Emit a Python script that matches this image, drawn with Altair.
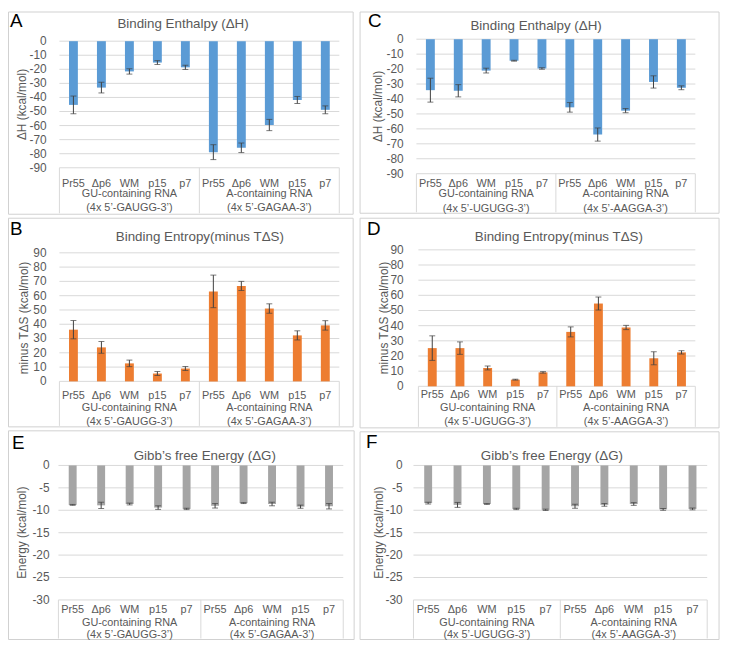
import altair as alt
import pandas as pd

# ---------------- data ----------------
proteins = ["Pr55", "Δp6", "WM", "p15", "p7"]
group_names = ["GU-containing RNA", "A-containing RNA"]
seq_left = ["(4x 5’-GAUGG-3’)", "(4x 5’-GAGAA-3’)"]
seq_right = ["(4x 5’-UGUGG-3’)", "(4x 5’-AAGGA-3’)"]

title_dH = "Binding Enthalpy (ΔH)"
title_dS = "Binding Entropy(minus TΔS)"
title_dG = "Gibb’s free Energy (ΔG)"
ytitle_dH = "ΔH (kcal/mol)"
ytitle_dS = "minus TΔS (kcal/mol)"
ytitle_dG = "Energy (kcal/mol)"

ticks_dH = [0, -10, -20, -30, -40, -50, -60, -70, -80, -90]
ticks_dS = [0, 10, 20, 30, 40, 50, 60, 70, 80, 90]
ticks_dG = [0, -5, -10, -15, -20, -25, -30]

A_mean = [-45.3, -33.0, -21.5, -15.2, -18.6, -78.9, -75.8, -59.6, -41.8, -48.8]
A_err = [6.3, 3.8, 1.9, 1.4, 1.5, 5.3, 3.4, 4.0, 2.5, 2.8]
B_mean = [36.2, 23.8, 12.6, 5.5, 9.0, 63.0, 66.8, 51.0, 32.2, 39.2]
B_err = [6.4, 4.1, 2.3, 1.4, 1.4, 11.4, 3.2, 3.3, 3.2, 3.3]
C_mean = [-34.1, -34.5, -21.0, -14.4, -19.6, -45.6, -63.8, -47.8, -28.6, -32.5]
C_err = [8.0, 4.1, 1.6, 0.3, 0.5, 3.2, 4.4, 1.4, 4.1, 1.3]
D_mean = [25.2, 25.2, 12.1, 4.4, 9.2, 35.9, 54.6, 38.8, 18.5, 22.4]
D_err = [8.1, 4.1, 1.3, 0.3, 0.5, 3.3, 4.3, 1.4, 4.3, 1.1]
E_mean = [-8.8, -8.9, -8.6, -9.4, -9.7, -9.0, -8.4, -8.6, -9.2, -9.1]
E_err = [0.1, 0.7, 0.2, 0.4, 0.15, 0.5, 0.1, 0.4, 0.35, 0.6]
F_mean = [-8.4, -8.8, -8.6, -9.7, -9.9, -9.1, -8.8, -8.6, -9.8, -9.7]
F_err = [0.2, 0.55, 0.1, 0.15, 0.15, 0.45, 0.3, 0.3, 0.2, 0.2]

BLUE = "#5B9BD5"
ORANGE = "#ED7D31"
GRAY = "#A5A5A5"
TXT = "#595959"
GRID = "#D9D9D9"
BORDER = "#D0D0D0"
ERR = "#404040"
FONT = "Liberation Sans"


def panel(letter, title, ytitle, vals, errs, seqs, color, ticks, L):
    xs = alt.Scale(domain=[-0.5, 9.5], range=[L["px0"], L["px1"]], nice=False, zero=False)
    ys = alt.Scale(domain=L["ydom"], range=L["yrange"], nice=False, zero=False)
    n = len(vals)
    df = pd.DataFrame({
        "pos": list(range(n)),
        "v": vals,
        "lo": [v - e for v, e in zip(vals, errs)],
        "hi": [v + e for v, e in zip(vals, errs)],
        "zero": [0] * n,
        "lab": proteins * 2,
    })
    tdf = pd.DataFrame({"t": ticks, "a": [-0.5] * len(ticks), "b": [9.5] * len(ticks),
                        "lab": [str(t) for t in ticks]})
    sdf = pd.DataFrame({"s": [-0.5, 4.5, 9.5]})
    gdf = pd.DataFrame({"g": [2, 7], "name": group_names, "seq": seqs})
    one = pd.DataFrame({"k": [0]})

    X = lambda f: alt.X(f, type="quantitative", scale=xs, axis=None)
    Y = lambda f: alt.Y(f, type="quantitative", scale=ys, axis=None)

    bx0, by0, bx1, by1 = L["box"]
    layers = [
        alt.Chart(one).mark_rect(fill="white", fillOpacity=0, stroke=BORDER, strokeWidth=1).encode(
            x=alt.value(bx0), x2=alt.value(bx1), y=alt.value(by0), y2=alt.value(by1)),
        alt.Chart(tdf).mark_rule(color=GRID, strokeWidth=1).encode(
            x=X("a"), x2="b", y=Y("t")),
        alt.Chart(sdf).mark_rule(color=GRID, strokeWidth=1).encode(
            x=X("s"), y=alt.value(L["sep"][0]), y2=alt.value(L["sep"][1])),
        alt.Chart(df).mark_bar(color=color, size=L["bar"]).encode(
            x=X("pos"), y=Y("v"), y2="zero"),
        alt.Chart(df).mark_rule(color=ERR, strokeWidth=1).encode(
            x=X("pos"), y=Y("lo"), y2="hi"),
        alt.Chart(df).mark_tick(color=ERR, orient="horizontal", size=6, thickness=1).encode(
            x=X("pos"), y=Y("lo")),
        alt.Chart(df).mark_tick(color=ERR, orient="horizontal", size=6, thickness=1).encode(
            x=X("pos"), y=Y("hi")),
        alt.Chart(tdf).mark_text(align="right", baseline="middle", font=FONT, fontSize=12, color=TXT).encode(
            x=alt.value(L["tickx"]), y=Y("t"), text="lab"),
        alt.Chart(df).mark_text(align="center", baseline="middle", font=FONT, fontSize=11, color=TXT).encode(
            x=X("pos"), y=alt.value(L["cat"]), text="lab"),
        alt.Chart(gdf).mark_text(align="center", baseline="middle", font=FONT, fontSize=11, color=TXT).encode(
            x=X("g"), y=alt.value(L["grp"]), text="name"),
        alt.Chart(gdf).mark_text(align="center", baseline="middle", font=FONT, fontSize=11, color=TXT).encode(
            x=X("g"), y=alt.value(L["seq"]), text="seq"),
        alt.Chart(one).mark_text(text=title, align="center", baseline="middle", font=FONT,
                                 fontSize=13.5, color=TXT).encode(
            x=alt.value(L["title"][0]), y=alt.value(L["title"][1])),
        alt.Chart(one).mark_text(text=ytitle, align="center", baseline="middle", angle=270, font=FONT,
                                 fontSize=12, color=TXT).encode(
            x=alt.value(L["ytitle"][0]), y=alt.value(L["ytitle"][1])),
        alt.Chart(one).mark_text(text=letter, align="left", baseline="alphabetic", font=FONT,
                                 fontSize=19, color="#000000").encode(
            x=alt.value(L["letter"][0]), y=alt.value(L["letter"][1])),
    ]
    return alt.layer(*layers)


LA = dict(box=(0.5, 0.5, 349, 205), letter=(2, 16), title=(177, 13), px0=47, px1=340,
          ydom=[-90, 0], yrange=[158, 30], tickx=39, ytitle=(14, 94), sep=(158, 204),
          cat=174, grp=185, seq=199, bar=9)
LC = dict(box=(356, 0.5, 719, 204), letter=(364, 16), title=(534, 15), px0=408, px1=700,
          ydom=[-90, 0], yrange=[164, 28], tickx=400, ytitle=(374, 96), sep=(164, 203),
          cat=174, grp=185, seq=200, bar=9)
LB = dict(box=(0.5, 209, 349, 420), letter=(2, 226), title=(194, 228), px0=47, px1=340,
          ydom=[0, 90], yrange=[374, 244], tickx=39, ytitle=(16, 310), sep=(374, 419),
          cat=389, grp=401, seq=415, bar=9)
LD = dict(box=(356, 209, 719, 421), letter=(363, 226), title=(557, 228), px0=410, px1=700,
          ydom=[0, 90], yrange=[379, 241], tickx=400, ytitle=(380, 310), sep=(379, 420),
          cat=388, grp=401, seq=415, bar=9)
LE = dict(box=(0.5, 424, 350, 635), letter=(4, 442), title=(199, 449), px0=46, px1=344,
          ydom=[-30, 0], yrange=[595, 459], tickx=42, ytitle=(14, 527), sep=(595, 634),
          cat=605, grp=618, seq=630, bar=8)
LF = dict(box=(356, 425, 719, 635), letter=(362, 441), title=(550, 449), px0=405, px1=712,
          ydom=[-30, 0], yrange=[595, 459], tickx=399, ytitle=(375, 527), sep=(595, 634),
          cat=605, grp=618, seq=630, bar=8)

panels = [
    panel("A", title_dH, ytitle_dH, A_mean, A_err, seq_left, BLUE, ticks_dH, LA),
    panel("C", title_dH, ytitle_dH, C_mean, C_err, seq_right, BLUE, ticks_dH, LC),
    panel("B", title_dS, ytitle_dS, B_mean, B_err, seq_left, ORANGE, ticks_dS, LB),
    panel("D", title_dS, ytitle_dS, D_mean, D_err, seq_right, ORANGE, ticks_dS, LD),
    panel("E", title_dG, ytitle_dG, E_mean, E_err, seq_left, GRAY, ticks_dG, LE),
    panel("F", title_dG, ytitle_dG, F_mean, F_err, seq_right, GRAY, ticks_dG, LF),
]

chart = alt.layer(*panels).resolve_scale(x="independent", y="independent").properties(
    width=724, height=636, padding=0, autosize="none", background="white"
).configure_view(stroke=None)

chart.save("out.html", embed_options={"renderer": "svg", "actions": False})
